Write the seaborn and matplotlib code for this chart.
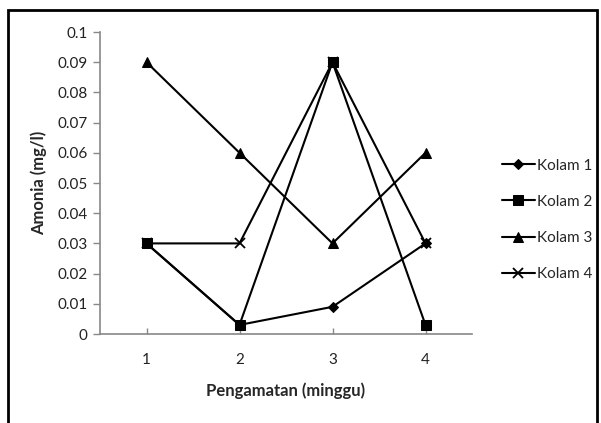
import matplotlib
matplotlib.use("Agg")
import matplotlib.pyplot as plt
import seaborn as sns
import pandas as pd
from matplotlib.patches import Rectangle

weeks = [1, 2, 3, 4]
kolam1 = [0.03, 0.003, 0.009, 0.03]
kolam2 = [0.03, 0.003, 0.09, 0.003]
kolam3 = [0.09, 0.06, 0.03, 0.06]
kolam4 = [0.03, 0.03, 0.09, 0.03]
series_names = ["Kolam 1", "Kolam 2", "Kolam 3", "Kolam 4"]
y_ticks = [0, 0.01, 0.02, 0.03, 0.04, 0.05, 0.06, 0.07, 0.08, 0.09, 0.1]
y_tick_labels = ["0", "0.01", "0.02", "0.03", "0.04", "0.05", "0.06", "0.07", "0.08", "0.09", "0.1"]

rows = []
for name, vals in zip(series_names, [kolam1, kolam2, kolam3, kolam4]):
    for w, v in zip(weeks, vals):
        rows.append({"Minggu": w, "Amonia": v, "Kolam": name})
df = pd.DataFrame(rows)

sns.set_style("white")
plt.rcParams["font.family"] = ["Lato", "DejaVu Sans"]

fig = plt.figure(figsize=(6.01, 4.23), dpi=100)
ax = fig.add_axes([100 / 601, 1 - 334 / 423, 372 / 601, 302 / 423])

sns.lineplot(data=df, x="Minggu", y="Amonia", hue="Kolam", style="Kolam",
             markers=["D", "s", "^", "X"], dashes=False,
             palette=["black"] * 4, linewidth=1.5, markersize=7,
             markeredgecolor="black", ax=ax, legend=True)

ax.set_xlim(0.5, 4.5)
ax.set_ylim(0, 0.1)
ax.set_xticks(weeks)
ax.set_xticklabels([str(w) for w in weeks], fontsize=11, color="#222222")
ax.set_yticks(y_ticks)
ax.set_yticklabels(y_tick_labels, fontsize=11, color="#222222")
ax.tick_params(axis="y", direction="out", length=5, color="#888888", width=1, pad=4, left=True)
ax.tick_params(axis="x", direction="in", length=4, color="#888888", width=1, pad=14, bottom=True)
for s in ["top", "right"]:
    ax.spines[s].set_visible(False)
for s in ["left", "bottom"]:
    ax.spines[s].set_color("#888888")
    ax.spines[s].set_linewidth(1.2)

ax.set_xlabel("Pengamatan (minggu)", fontsize=12, fontweight="bold", labelpad=11)
ax.set_ylabel("Amonia (mg/l)", fontsize=12, fontweight="bold", labelpad=7)

# marker tweaks: small diamond, thin x
def tweak(line):
    m = line.get_marker()
    if m == "D":
        line.set_markersize(5.5)
    elif m == "X":
        line.set_marker("x")
        line.set_markeredgewidth(1.3)
        line.set_markersize(7)

for line in ax.get_lines():
    tweak(line)

handles, labels = ax.get_legend_handles_labels()
leg = ax.legend(handles, labels, loc="upper left", bbox_to_anchor=(494 / 601, 1 - 151 / 423),
                bbox_transform=fig.transFigure, frameon=False, fontsize=11,
                handlelength=2.2, handletextpad=0.1, labelspacing=1.45, borderpad=0)
for h in leg.legend_handles:
    if hasattr(h, "get_marker"):
        tweak(h)

fig.patches.append(Rectangle((8 / 601, -0.02), 589 / 601, 1 - 10 / 423 + 0.02,
                             transform=fig.transFigure, fill=False,
                             edgecolor="black", linewidth=2))

fig.savefig("out.png", dpi=100)
